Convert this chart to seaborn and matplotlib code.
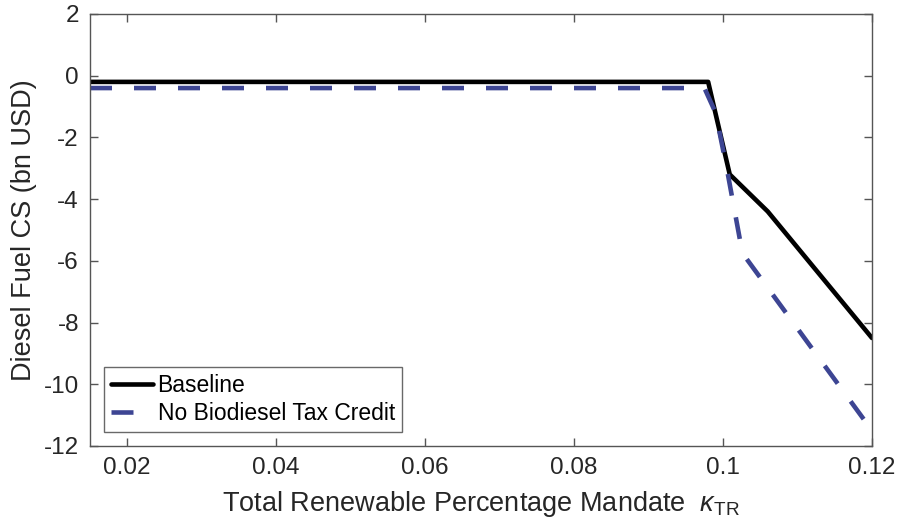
import matplotlib
matplotlib.use("Agg")
import matplotlib.pyplot as plt
import seaborn as sns
import pandas as pd

# Data
baseline_x = [0.015, 0.098, 0.1009, 0.106, 0.120]
baseline_y = [-0.2, -0.2, -3.2, -4.4, -8.5]
notax_x = [0.015, 0.0975, 0.0990, 0.1005, 0.1026, 0.120]
notax_y = [-0.4, -0.4, -1.2, -3.0, -5.75, -11.5]
x_ticks = [0.02, 0.04, 0.06, 0.08, 0.10, 0.12]
x_ticklabels = ["0.02", "0.04", "0.06", "0.08", "0.1", "0.12"]
y_ticks = [-12, -10, -8, -6, -4, -2, 0, 2]

sns.set_style("white")
plt.rcParams["font.family"] = ["Liberation Sans", "DejaVu Sans"]
plt.rcParams["mathtext.fontset"] = "custom"
plt.rcParams["mathtext.rm"] = "Liberation Sans"
plt.rcParams["mathtext.it"] = "Liberation Sans:italic"
plt.rcParams["axes.unicode_minus"] = False

df_b = pd.DataFrame({"x": baseline_x, "y": baseline_y})
df_n = pd.DataFrame({"x": notax_x, "y": notax_y})

fig = plt.figure(figsize=(8.99, 5.27), dpi=100)
ax = fig.add_axes([90 / 899, 1 - 446 / 527, (872 - 90) / 899, (446 - 14) / 527])

sns.lineplot(data=df_b, x="x", y="y", ax=ax, color="black", linewidth=3.3,
             label="Baseline", sort=False)
sns.lineplot(data=df_n, x="x", y="y", ax=ax, color="#3d4593", linewidth=3.3,
             label="No Biodiesel Tax Credit", sort=False)
ax.lines[1].set_dashes((4.8, 4.8))

ax.set_xlim(0.015, 0.12)
ax.set_ylim(-12, 2)
ax.set_xticks(x_ticks)
ax.set_xticklabels(x_ticklabels)
ax.set_yticks(y_ticks)
ax.tick_params(direction="in", length=6, width=1, color="#555555",
               labelsize=17.5, labelcolor="#262626", top=True, right=True,
               left=True, bottom=True, pad=8)
for s in ax.spines.values():
    s.set_color("#555555")
    s.set_linewidth(1.0)
    s.set_visible(True)

ax.set_xlabel(r"Total Renewable Percentage Mandate  $\kappa_{\mathrm{TR}}$",
              fontsize=19.5, color="#262626", labelpad=7)
ax.set_ylabel("Diesel Fuel CS (bn USD)", fontsize=19.5, color="#262626", labelpad=5)

leg = ax.legend(loc="lower left", fontsize=16.5, frameon=True, fancybox=False,
                handlelength=1.85, handletextpad=0.2, borderpad=0.3,
                labelspacing=0.25, borderaxespad=0.6)
leg.get_frame().set_edgecolor("#444444")
leg.get_frame().set_linewidth(1.0)
leg.legend_handles[1].set_dashes((4.8, 10))
for t in leg.get_texts():
    t.set_color("black")

fig.savefig("out.png", dpi=100)
